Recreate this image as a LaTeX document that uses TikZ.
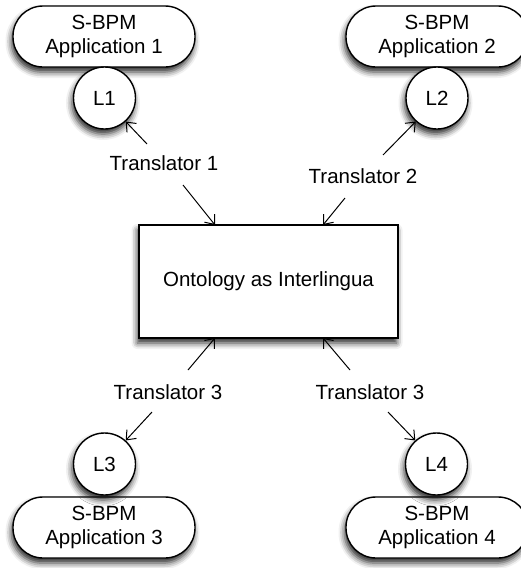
\documentclass[tikz,border=0pt]{standalone}
\usepackage{fontspec}
\setmainfont{Liberation Sans}
\usetikzlibrary{arrows.meta,shadows.blur}
\begin{document}
\begin{tikzpicture}[x=1pt,y=-1pt,
  every node/.style={font=\fontsize{20.5}{24}\selectfont},
  sh/.style={blur shadow={shadow xshift=-1.5pt,shadow yshift=-5pt,shadow blur radius=6pt,shadow opacity=85}},
  app/.style={draw,line width=1.4pt,fill=white,rounded corners=30pt,minimum width=182pt,minimum height=61pt,align=center,sh},
  lang/.style={draw,circle,line width=1.4pt,fill=white,minimum size=62pt,inner sep=0pt,sh},
  onto/.style={draw,line width=1.4pt,fill=white,minimum width=259pt,minimum height=113pt,sh},
  link/.style={-{Straight Barb[length=8pt,width=13pt]},line width=1pt}]
\useasboundingbox (0,0) rectangle (521,568);

% central ontology box
\node[onto] (onto) at (268.5,281.5) {Ontology as Interlingua};

% applications and their languages
\node[app] (a1) at (104,36.5) {S-BPM\\Application 1};
\node[app] (a2) at (437,36.5) {S-BPM\\Application 2};
\node[app] (a3) at (104,527.5) {S-BPM\\Application 3};
\node[app] (a4) at (437,527.5) {S-BPM\\Application 4};
\node[lang] (l1) at (104.5,98) {L1};
\node[lang] (l2) at (437,98) {L2};
\node[lang] (l3) at (104.5,464) {L3};
\node[lang] (l4) at (436.5,464) {L4};

% translator labels
\node (t1) at (164,163) {Translator 1};
\node (t2) at (363,176) {Translator 2};
\node (t3) at (168,392) {Translator 3};
\node (t4) at (370,392) {Translator 3};

% arrow end points
\coordinate (s1a) at (147,144);
\coordinate (s1b) at (183,185);
\coordinate (e1b) at (215,225);
\coordinate (s2a) at (383,155);
\coordinate (s2b) at (345,198);
\coordinate (e2b) at (323,225);
\coordinate (s3a) at (188,370);
\coordinate (e3a) at (215,338);
\coordinate (s3b) at (152,412);
\coordinate (s4a) at (350,370);
\coordinate (e4a) at (323,338);
\coordinate (s4b) at (388,412);

\draw[link] (s1a) -- (l1.-48);
\draw[link] (s1b) -- (e1b);
\draw[link] (s2a) -- (l2.-132);
\draw[link] (s2b) -- (e2b);
\draw[link] (s3a) -- (e3a);
\draw[link] (s3b) -- (l3.48);
\draw[link] (s4a) -- (e4a);
\draw[link] (s4b) -- (l4.132);
\end{tikzpicture}
\end{document}
